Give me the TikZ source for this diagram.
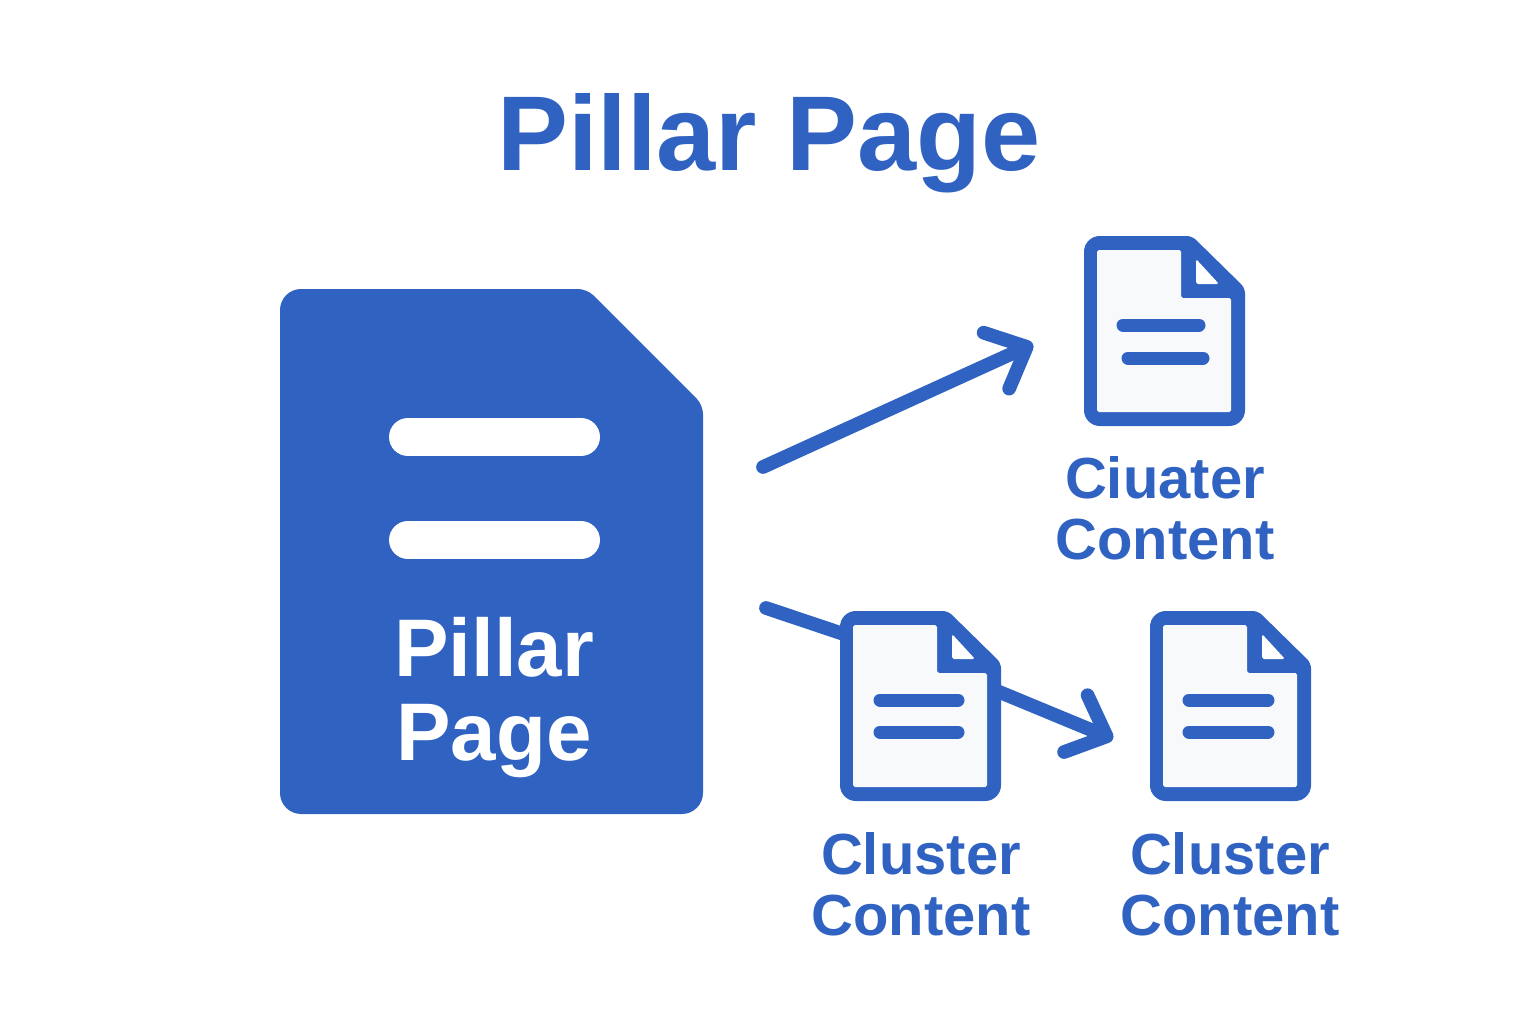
\documentclass[tikz,border=0pt]{standalone}
\usepackage{fontspec}
\setmainfont{Liberation Sans}
\usetikzlibrary{arrows.meta}
\definecolor{pillarblue}{RGB}{48,98,194}
\definecolor{sheetwhite}{RGB}{248,249,251}
\begin{document}
\begin{tikzpicture}[x=0.02cm,y=-0.02cm]
	\tikzstyle{link}=[draw=pillarblue,line width=7.8pt,line cap=round,line join=round]
	\tikzstyle{linktip}=[-{Straight Barb[length=19pt,width=35pt,round]}]
	\tikzstyle{bigbar}=[draw=white,line width=21.6pt,line cap=round]
	\tikzstyle{smallbar}=[draw=pillarblue,line width=7.4pt,line cap=round]
	\tikzstyle{heading}=[text=pillarblue,font=\fontsize{60.5}{60.5}\selectfont\bfseries]
	\tikzstyle{pagelabel}=[text=white,align=center,font=\fontsize{46.5}{47.8}\selectfont\bfseries]
	\tikzstyle{doclabel}=[text=pillarblue,align=center,font=\fontsize{33}{34.7}\selectfont\bfseries]
	% small sheet with its fold, origin at the top left corner
	\tikzset{pics/docsheet/.style={code={
		\fill[pillarblue] (50,0) [rounded corners=9pt] -- (0,0) -- (0,190) -- (161,190) [rounded corners=3pt] -- (161,52) -- (108,0) [sharp corners] -- cycle;
		\fill[sheetwhite,rounded corners=1pt] (13,14) -- (97,14) -- (97,62) -- (147,62) -- (147,176) -- (13,176) -- cycle;
		\fill[white,rounded corners=1pt] (112,23) -- (135,48) -- (112,48) -- cycle;
	}}}
	\useasboundingbox (0,0) rectangle (1536,1024);

	\node[heading] (title) at (769,143) {Pillar Page};

	% pillar page
	\fill[pillarblue] (400,289) [rounded corners=12pt] -- (280,289) -- (280,814) -- (703,814) [rounded corners=5pt] -- (703,405) -- (587,289) [sharp corners] -- cycle;
	\draw[bigbar] (408,437) -- (581,437);
	\draw[bigbar] (408,540) -- (581,540);
	\node[pagelabel] (pillar-label) at (494,698) {Pillar\\Page};

	% connectors go under the sheets
	\coordinate (top-start) at (763,467);
	\coordinate (top-end) at (1033,344);
	\coordinate (low-start) at (766,608);
	\coordinate (low-bend) at (927,662);
	\coordinate (low-end) at (1113,739);
	\draw[link,linktip] (top-start) -- (top-end);
	\draw[link,linktip] (low-start) -- (low-bend) -- (low-end);

	\pic at (1084,236) {docsheet};
	\draw[smallbar] (1123,325) -- (1199,325);
	\draw[smallbar] (1128,358) -- (1203,358);
	\node[doclabel] (top-label) at (1165,508) {Ciuater\\Content};

	\pic at (840,611) {docsheet};
	\draw[smallbar] (880,700) -- (958,700);
	\draw[smallbar] (880,732) -- (958,732);
	\node[doclabel] (left-label) at (921,884) {Cluster\\Content};

	\pic at (1150,611) {docsheet};
	\draw[smallbar] (1189,700) -- (1268,700);
	\draw[smallbar] (1189,732) -- (1268,732);
	\node[doclabel] (right-label) at (1230,884) {Cluster\\Content};
\end{tikzpicture}
\end{document}
